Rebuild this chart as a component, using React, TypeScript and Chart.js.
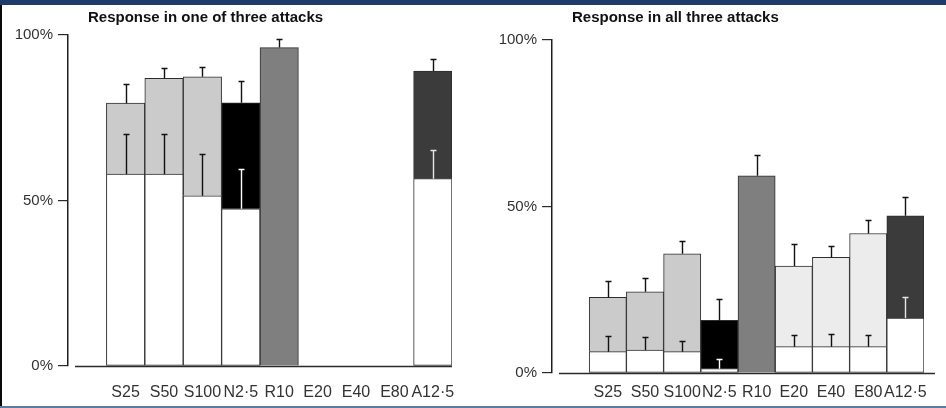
import React, { useEffect, useRef } from 'react';
import { Chart, registerables } from 'chart.js';

Chart.register(...registerables);

// ---------- data ----------
const categories = ['S25', 'S50', 'S100', 'N2·5', 'R10', 'E20', 'E40', 'E80', 'A12·5'];
const groups = ['S', 'S', 'S', 'N', 'R', 'E', 'E', 'E', 'A'];
const yTickValues = [0, 50, 100];

// Panel 1: response in one of three attacks (%)
const oneBase = [58.0, 58.0, 51.4, 47.5, null, null, null, null, 56.6];
const oneBaseErr = [12.0, 12.0, 12.6, 12.0, null, null, null, null, 8.7];
const oneTotal = [79.4, 86.9, 87.4, 79.5, 96.2, null, null, null, 89.1];
const oneTotalErr = [5.8, 3.0, 2.9, 6.6, 2.6, null, null, null, 3.7];

// Panel 2: response in all three attacks (%)
const allBase = [6.4, 6.9, 6.4, 1.3, null, 7.9, 7.9, 7.9, 16.5];
const allBaseErr = [4.7, 4.0, 3.1, 3.0, null, 3.5, 3.8, 3.5, 6.2];
const allTotal = [22.7, 24.4, 35.8, 15.8, 59.2, 32.1, 34.7, 41.9, 47.2];
const allTotalErr = [5.0, 4.1, 3.8, 6.3, 6.2, 6.7, 3.3, 4.0, 5.7];

// ---------- styles ----------
const groupColor: Record<string, string> = {
  S: '#cbcbcb',
  N: '#000000',
  R: '#7f7f7f',
  E: '#ececec',
  A: '#3b3b3b',
};
const innerErrColor: Record<string, string> = {
  S: '#111111',
  N: '#ffffff',
  R: '#111111',
  E: '#111111',
  A: '#e6e6e6',
};
const FONT = '"Liberation Sans", Arial, sans-serif';

const errorBarPlugin = {
  id: 'errorBars',
  afterDatasetsDraw(chart: any, _args: any, opts: any) {
    const { ctx } = chart;
    const x = chart.scales.x;
    const y = chart.scales.y;
    ctx.save();
    ctx.lineWidth = 1.4;
    const draw = (xi: number, v: number | null, e: number | null, color: string) => {
      if (v == null || e == null) return;
      const px = Math.round(x.getPixelForValue(xi)) + 0.5;
      const y0 = y.getPixelForValue(v);
      const y1 = Math.round(y.getPixelForValue(v + e)) + 0.5;
      ctx.strokeStyle = color;
      ctx.beginPath();
      ctx.moveTo(px, y0);
      ctx.lineTo(px, y1);
      ctx.moveTo(px - 3, y1);
      ctx.lineTo(px + 3, y1);
      ctx.stroke();
    };
    opts.base.forEach((b: number | null, i: number) =>
      draw(i + 1, b, opts.baseErr[i], innerErrColor[opts.groups[i]])
    );
    opts.total.forEach((t: number | null, i: number) =>
      draw(i + 1, t, opts.totalErr[i], '#111111')
    );
    ctx.restore();
  },
};

const baselinePlugin = {
  id: 'baseline',
  afterDatasetsDraw(chart: any, _args: any, opts: any) {
    const { ctx, chartArea } = chart;
    const y = Math.round(chart.scales.y.getPixelForValue(0)) + 0.5;
    ctx.save();
    ctx.strokeStyle = '#2a2a2a';
    ctx.lineWidth = 1.5;
    ctx.beginPath();
    ctx.moveTo(chartArea.left + opts.startGap, y);
    ctx.lineTo(chartArea.right + opts.endExtra, y);
    ctx.stroke();
    ctx.restore();
  },
};

const panelTitlePlugin = {
  id: 'panelTitle',
  afterDraw(chart: any, _args: any, opts: any) {
    const { ctx, chartArea } = chart;
    ctx.save();
    ctx.font = `bold 15px ${FONT}`;
    ctx.fillStyle = '#111111';
    ctx.textBaseline = 'middle';
    ctx.textAlign = 'left';
    ctx.fillText(opts.text, chartArea.left + opts.dx, opts.y);
    ctx.restore();
  },
};

type PanelProps = {
  title: string;
  base: (number | null)[];
  baseErr: (number | null)[];
  total: (number | null)[];
  totalErr: (number | null)[];
  width: number;
  height: number;
  yAxisWidth: number;
  xAxisHeight: number;
  padTop: number;
  padRight: number;
  labelPad: number;
  endExtra: number;
  style: React.CSSProperties;
};

function Panel(p: PanelProps) {
  const ref = useRef<HTMLCanvasElement | null>(null);
  useEffect(() => {
    if (!ref.current) return;
    const labels = ['', ...categories];
    const baseData = [null, ...p.base];
    const topData = [
      null,
      ...categories.map((_, i) =>
        p.total[i] == null ? null : [p.base[i] ?? 0, p.total[i] as number]
      ),
    ];
    const topColors = ['#ffffff', ...groups.map((g) => groupColor[g])];
    const chart = new Chart(ref.current, {
      type: 'bar',
      data: {
        labels,
        datasets: [
          {
            label: 'base',
            data: baseData as any,
            backgroundColor: '#ffffff',
            borderColor: '#2e2e2e',
            borderWidth: 1,
            borderSkipped: false,
            barPercentage: 1,
            categoryPercentage: 1,
            grouped: false,
          } as any,
          {
            label: 'top',
            data: topData as any,
            backgroundColor: topColors,
            borderColor: '#2e2e2e',
            borderWidth: { top: 1, left: 1, right: 1, bottom: 0 },
            borderSkipped: false,
            barPercentage: 1,
            categoryPercentage: 1,
            grouped: false,
          } as any,
        ],
      },
      options: {
        responsive: false,
        animation: false,
        devicePixelRatio: 1,
        events: [],
        layout: { padding: { top: p.padTop, right: p.padRight, left: 0, bottom: 0 } },
        plugins: {
          legend: { display: false },
          tooltip: { enabled: false },
          title: { display: false },
          errorBars: {
            base: p.base,
            baseErr: p.baseErr,
            total: p.total,
            totalErr: p.totalErr,
            groups,
          },
          baseline: { startGap: 7, endExtra: p.endExtra },
          panelTitle: { text: p.title, dx: 20, y: 12.5 },
        } as any,
        scales: {
          x: {
            type: 'category',
            grid: { display: false, drawTicks: false },
            border: { display: false },
            ticks: {
              autoSkip: false,
              maxRotation: 0,
              padding: p.labelPad,
              color: '#333333',
              font: { family: FONT, size: 16 },
            },
            afterFit: (scale: any) => {
              scale.height = p.xAxisHeight;
            },
          },
          y: {
            min: 0,
            max: 100,
            afterBuildTicks: (scale: any) => {
              scale.ticks = yTickValues.map((v) => ({ value: v }));
            },
            ticks: {
              padding: 5,
              color: '#333333',
              font: { family: FONT, size: 15 },
              callback: (v: any) => `${v}%`,
            },
            grid: {
              drawOnChartArea: false,
              drawTicks: true,
              tickLength: 10,
              color: '#2a2a2a',
              lineWidth: 1.2,
            },
            border: { display: true, color: '#1e1e1e', width: 1.5 },
            afterFit: (scale: any) => {
              scale.width = p.yAxisWidth;
            },
          },
        },
      },
      plugins: [errorBarPlugin, baselinePlugin, panelTitlePlugin],
    } as any);
    return () => chart.destroy();
  }, []);
  return (
    <canvas
      ref={ref}
      width={p.width}
      height={p.height}
      style={{ position: 'absolute', width: p.width, height: p.height, ...p.style }}
    />
  );
}

export default function App() {
  return (
    <div
      style={{
        position: 'fixed',
        left: 0,
        top: 0,
        width: 946,
        height: 408,
        background: '#ffffff',
        overflow: 'hidden',
      }}
    >
      <div style={{ position: 'absolute', left: 0, top: 0, width: 946, height: 5, background: '#1f3b6c' }} />
      <div style={{ position: 'absolute', left: 0, top: 5, width: 2, height: 401, background: '#0a0a0a' }} />
      <div style={{ position: 'absolute', left: 0, top: 406, width: 946, height: 2, background: '#5a7ca2' }} />
      <Panel
        title="Response in one of three attacks"
        base={oneBase}
        baseErr={oneBaseErr}
        total={oneTotal}
        totalErr={oneTotalErr}
        width={470}
        height={400}
        yAxisWidth={65}
        xAxisHeight={39}
        padTop={30}
        padRight={21}
        labelPad={17}
        endExtra={0}
        style={{ left: 3, top: 5 }}
      />
      <Panel
        title="Response in all three attacks"
        base={allBase}
        baseErr={allBaseErr}
        total={allTotal}
        totalErr={allTotalErr}
        width={473}
        height={400}
        yAxisWidth={79}
        xAxisHeight={32}
        padTop={35}
        padRight={22}
        labelPad={10}
        endExtra={11}
        style={{ left: 473, top: 5 }}
      />
    </div>
  );
}
